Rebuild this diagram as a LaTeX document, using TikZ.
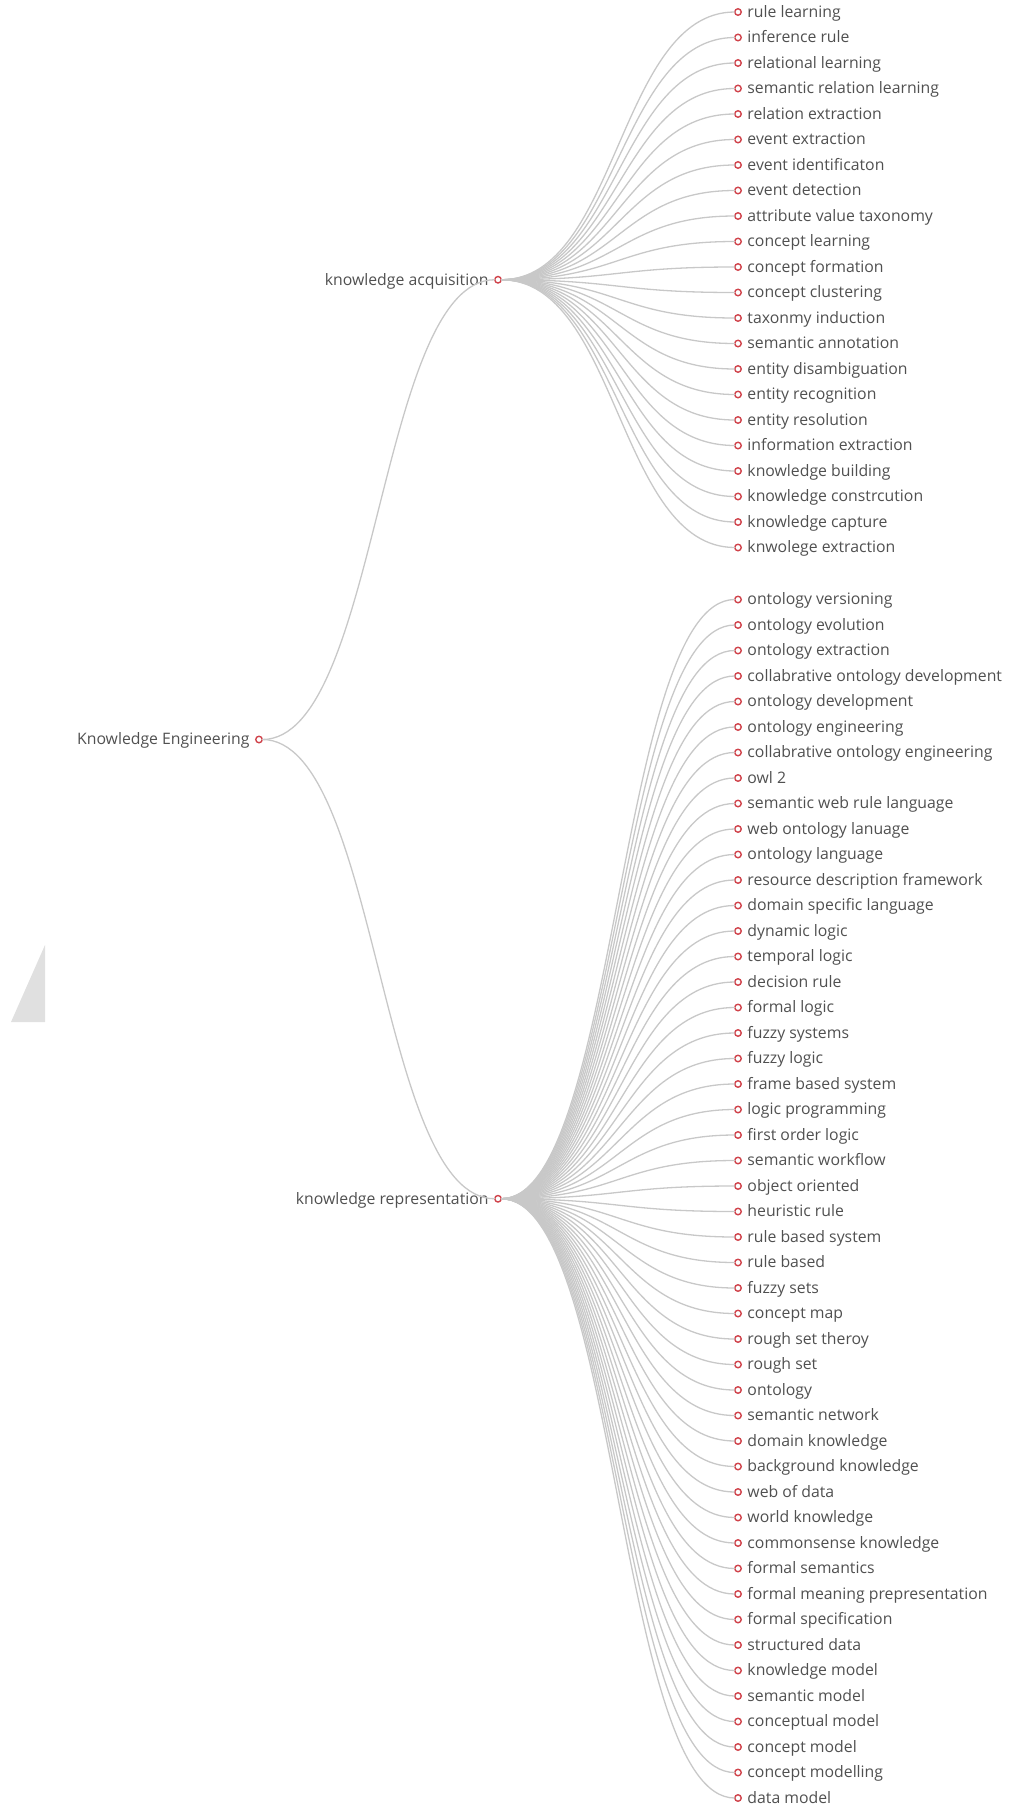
\documentclass[tikz,border=0pt]{standalone}
\usepackage{fontspec}
\setmainfont{Open Sans}
\usetikzlibrary{calc}

\definecolor{linkgray}{HTML}{C8C8C8}
\definecolor{dotred}{HTML}{D0434B}
\definecolor{txtgray}{HTML}{505050}
\definecolor{markgray}{HTML}{E0E0E0}

\tikzset{
  dot/.style={circle, draw=dotred, fill=white, line width=1.4pt,
    minimum size=6.5pt, inner sep=0pt, outer sep=0pt},
  lbl/.style={text=txtgray, font=\fontsize{15.8}{18}\selectfont,
    inner sep=0pt, text height=10.8pt, text depth=0pt},
  lblr/.style={lbl, xshift=6pt},
  lbll/.style={lbl, xshift=-6pt},
  link/.style={draw=linkgray, line width=1.3pt},
}

\begin{document}
\begin{tikzpicture}[x=1pt, y=-1pt]
        \useasboundingbox (0,0) rectangle (1010,1807);
        % watermark corner
        \fill[markgray] (45,945) -- (45,1022) -- (11,1022) -- cycle;

        \node[dot, label={[lbll]left:Knowledge Engineering}] (ke) at (259,739.5) {};
        \node[dot, label={[lbll]left:knowledge acquisition}] (ka) at (498,279.75) {};
        \node[dot, label={[lbll]left:knowledge representation}] (kr) at (498,1198.75) {};

        \foreach \p in {ka,kr} {
          \coordinate (m) at ($(ke)!.5!(\p)$);
          \draw[link] (ke) .. controls (m |- ke) and (m |- \p) .. (\p);
        }

        \foreach \t [count=\i] in {rule learning, inference rule, relational learning,
          semantic relation learning, relation extraction, event extraction,
          event identificaton, event detection, attribute value taxonomy,
          concept learning, concept formation, concept clustering, taxonmy induction,
          semantic annotation, entity disambiguation, entity recognition,
          entity resolution, information extraction, knowledge building,
          knowledge constrcution, knowledge capture, knwolege extraction} {
          \node[dot, label={[lblr]right:\t}] (ka\i) at (738,{12+25.5*(\i-1)}) {};
          \coordinate (m) at ($(ka)!.5!(ka\i)$);
          \draw[link] (ka) .. controls (m |- ka) and (m |- ka\i) .. (ka\i);
        }

        \foreach \t [count=\i] in {ontology versioning, ontology evolution,
          ontology extraction, collabrative ontology development,
          ontology development, ontology engineering,
          collabrative ontology engineering, owl 2, semantic web rule language,
          web ontology lanuage, ontology language, resource description framework,
          domain specific language, dynamic logic, temporal logic, decision rule,
          formal logic, fuzzy systems, fuzzy logic, frame based system,
          logic programming, first order logic, semantic workflow, object oriented,
          heuristic rule, rule based system, rule based, fuzzy sets, concept map,
          rough set theroy, rough set, ontology, semantic network, domain knowledge,
          background knowledge, web of data, world knowledge, commonsense knowledge,
          formal semantics, formal meaning prepresentation, formal specification,
          structured data, knowledge model, semantic model, conceptual model,
          concept model, concept modelling, data model} {
          \node[dot, label={[lblr]right:\t}] (kr\i) at (738,{599.5+25.5*(\i-1)}) {};
          \coordinate (m) at ($(kr)!.5!(kr\i)$);
          \draw[link] (kr) .. controls (m |- kr) and (m |- kr\i) .. (kr\i);
        }
      \end{tikzpicture}
\end{document}
